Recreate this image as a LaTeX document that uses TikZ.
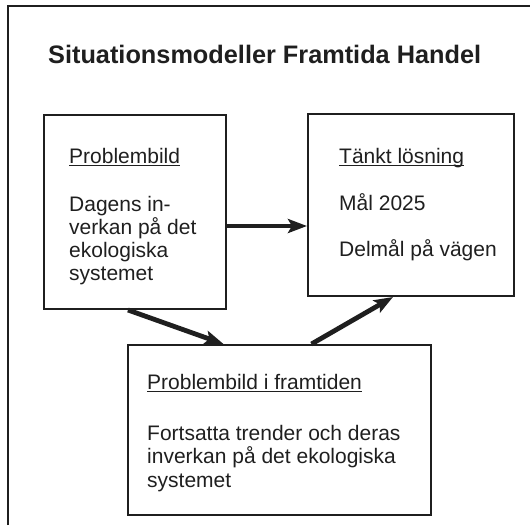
\documentclass[tikz,border=0pt]{standalone}
\usepackage{fontspec}
\setmainfont{Liberation Sans}
\usetikzlibrary{arrows.meta}

\definecolor{ink}{gray}{0.12}
\newcommand{\ulhead}[1]{\rule{0pt}{16pt}\setbox0\hbox{#1}\rlap{\rule[-3pt]{\wd0}{1.3pt}}\box0}

\tikzset{
  box/.style={draw=ink, line width=2pt, inner sep=0pt},
  txt/.style={anchor=north west, inner sep=0pt, align=left, text=ink,
    font=\fontsize{21}{23.3}\selectfont},
  arr/.style={draw=ink, line width=4.8pt,
    -{Stealth[length=19pt,width=14pt,inset=4pt]}}
}

\begin{document}
\begin{tikzpicture}[x=1pt, y=-1pt]
    \useasboundingbox (0,0) rectangle (530,525);

    % ram och rubrik
    \draw[ink, line width=1.3pt] (8,525) -- (8,6) -- (530,6);
    \node[anchor=base west, inner sep=0pt, text=ink,
        font=\fontsize{25.3}{30}\selectfont\bfseries] (rubrik) at (48,63)
        {Situationsmodeller Framtida Handel};

    % rutor
    \node[box, minimum width=182pt, minimum height=194pt] (prob) at (135,212) {};
    \node[box, minimum width=206pt, minimum height=182pt] (goal) at (411,205) {};
    \node[box, minimum width=303pt, minimum height=170pt] (fut) at (279.5,430) {};

    % texter i rutorna
    \node[txt] (probtxt) at ([shift={(26pt,-33pt)}]prob.north west)
        {\ulhead{Problembild}\\[24.5pt]Dagens in-\\verkan på det\\ekologiska\\systemet};
    \node[txt] (goaltxt) at ([shift={(32pt,-34pt)}]goal.north west)
        {\ulhead{Tänkt lösning}\\[24pt]Mål 2025\\[23pt]Delmål på vägen};
    \node[txt] (futtxt) at ([shift={(20pt,-29pt)}]fut.north west)
        {\ulhead{Problembild i framtiden}\\[28pt]Fortsatta trender och deras\\inverkan på det ekologiska\\systemet};

    % pilar
    \draw[arr] ([yshift=-14pt]prob.east) -- ([yshift=-14pt]prob.east -| goal.west);
    \draw[arr] ([xshift=-7pt]prob.south) -- ([xshift=-56pt]fut.north);
    \draw[arr] ([xshift=32pt]fut.north) -- ([xshift=-18pt]goal.south);
\end{tikzpicture}
\end{document}
